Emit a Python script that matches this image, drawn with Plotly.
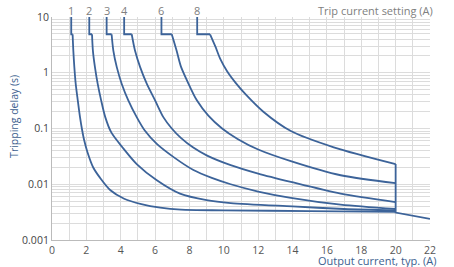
import plotly.graph_objects as go

# Trip current settings (A)
settings = ["1", "2", "3", "4", "6", "8"]

# Step part of each curve (vertical from 10 s, then short horizontal step)
c1_step_x = [1.12, 1.12, 1.20]
c2_step_x = [2.17, 2.17, 2.33]
c3_step_x = [3.18, 3.18, 3.47]
c4_step_x = [4.20, 4.20, 4.64]
c6_step_x = [6.37, 6.37, 6.97]
c8_step_x = [8.45, 8.45, 9.20]
step_y = [10, 4.9, 4.9]

# Curved part of each curve (x = output current A, y = tripping delay s)
c1_x = [1.20, 1.24, 1.30, 1.38, 1.50, 1.63, 1.75, 1.87, 2.06, 2.40, 2.80, 3.40, 4.20, 5.20, 6.30, 7.50, 10.0, 15.0, 20.0]
c1_y = [4.9, 2.5, 1.26, 0.63, 0.32, 0.16, 0.095, 0.062, 0.038, 0.020, 0.013, 0.0078, 0.0055, 0.0044, 0.0038, 0.0035, 0.0034, 0.0033, 0.0032]

c2_x = [2.33, 2.38, 2.50, 2.66, 2.86, 3.10, 3.45, 4.15, 4.93, 6.10, 7.45, 9.00, 10.4, 14.0, 17.0, 20.0]
c2_y = [4.9, 2.5, 1.26, 0.63, 0.32, 0.16, 0.085, 0.044, 0.023, 0.0118, 0.0068, 0.0052, 0.0046, 0.0040, 0.0036, 0.0034]

c3_x = [3.47, 3.57, 3.77, 4.06, 4.44, 4.93, 5.40, 6.10, 7.06, 8.23, 9.30, 10.4, 12.0, 13.9, 16.8, 20.0]
c3_y = [4.9, 2.5, 1.26, 0.63, 0.32, 0.16, 0.092, 0.053, 0.031, 0.018, 0.013, 0.0100, 0.0074, 0.0057, 0.0043, 0.0036]

c4_x = [4.64, 4.83, 5.13, 5.52, 6.00, 6.48, 6.97, 7.50, 8.20, 9.00, 10.4, 12.0, 13.9, 16.8, 20.0]
c4_y = [4.9, 2.5, 1.26, 0.63, 0.32, 0.16, 0.10, 0.068, 0.046, 0.033, 0.022, 0.0155, 0.011, 0.0068, 0.0048]

c6_x = [6.97, 7.25, 7.50, 7.90, 8.43, 9.10, 9.90, 10.8, 12.0, 13.9, 16.8, 20.0]
c6_y = [4.9, 2.5, 1.30, 0.68, 0.32, 0.17, 0.10, 0.065, 0.042, 0.026, 0.0145, 0.0105]

c8_x = [9.20, 9.50, 9.80, 10.2, 10.7, 11.3, 12.3, 13.9, 16.4, 20.0]
c8_y = [4.9, 3.0, 1.75, 1.05, 0.65, 0.40, 0.20, 0.090, 0.046, 0.023]

# Vertical end line at 20 A and tail to 22 A
end_x = [20.0, 20.0, 22.0]
end_y = [0.023, 0.0031, 0.0024]

steps = [c1_step_x, c2_step_x, c3_step_x, c4_step_x, c6_step_x, c8_step_x]
curves = [(c1_x, c1_y), (c2_x, c2_y), (c3_x, c3_y), (c4_x, c4_y), (c6_x, c6_y), (c8_x, c8_y)]

x_ticks = [0, 2, 4, 6, 8, 10, 12, 14, 16, 18, 20, 22]
y_ticks = [0.001, 0.01, 0.1, 1, 10]
y_tick_labels = ["0.001", "0.01", "0.1", "1", "10"]

LINE = "#3c6399"
GRID = "#dcdcdc"
FONT = "Open Sans"

fig = go.Figure()
for sx in steps:
    fig.add_trace(go.Scatter(x=sx, y=step_y, mode="lines",
                             line=dict(color=LINE, width=1.8), showlegend=False))
for cx, cy in curves:
    fig.add_trace(go.Scatter(x=cx, y=cy, mode="lines",
                             line=dict(color=LINE, width=1.8, shape="spline", smoothing=0.8),
                             showlegend=False))
fig.add_trace(go.Scatter(x=end_x, y=end_y, mode="lines",
                         line=dict(color=LINE, width=1.8), showlegend=False))

for lab, sx in zip(settings, steps):
    fig.add_annotation(x=sx[0], y=1, xref="x", yref="paper", yanchor="middle",
                       text=lab, showarrow=False, yshift=7,
                       font=dict(family=FONT, size=11, color="#808080"))

fig.add_annotation(x=1, y=1, xref="paper", yref="paper", xanchor="right", yanchor="middle",
                   text="Trip current setting (A)", showarrow=False, yshift=7, xshift=5,
                   font=dict(family=FONT, size=11, color="#808080"))
fig.add_annotation(x=1, y=0, xref="paper", yref="paper", xanchor="right", yanchor="middle",
                   text="Output current, typ. (A)", showarrow=False, yshift=-20, xshift=8,
                   font=dict(family=FONT, size=11, color="#3d5f8f"))
fig.add_annotation(x=0, y=0.552, xref="paper", yref="paper", xanchor="center", yanchor="middle",
                   text="Tripping delay (s)", showarrow=False, textangle=-90, xshift=-38,
                   font=dict(family=FONT, size=10.5, color="#3d5f8f"))

fig.update_layout(
    width=454, height=267,
    margin=dict(l=52, r=24, t=17, b=27),
    paper_bgcolor="white", plot_bgcolor="white",
    font=dict(family=FONT, size=11, color="#444444"),
    showlegend=False,
)
fig.update_xaxes(range=[0, 22], tickvals=x_ticks, showgrid=True, gridcolor=GRID, gridwidth=1,
                 minor=dict(dtick=1, showgrid=True, gridcolor=GRID),
                 showline=True, linecolor="#bbbbbb", zeroline=False, ticks="",
                 automargin=False, ticklabelstandoff=0,
                 tickfont=dict(family=FONT, size=10.5, color="#555555"))
fig.update_yaxes(type="log", range=[-3, 1], tickvals=y_ticks, ticktext=y_tick_labels,
                 showgrid=True, gridcolor=GRID, gridwidth=1,
                 minor=dict(showgrid=True, gridcolor=GRID, dtick="D1"),
                 showline=True, linecolor="#bbbbbb", zeroline=False, ticks="",
                 automargin=False,
                 tickfont=dict(family=FONT, size=10.5, color="#444444"))

# remove the default 8 px page margin so the figure fills the window exactly
fig.write_html("out.html", config={"displayModeBar": False},
               post_script="document.body.style.margin='0';")
